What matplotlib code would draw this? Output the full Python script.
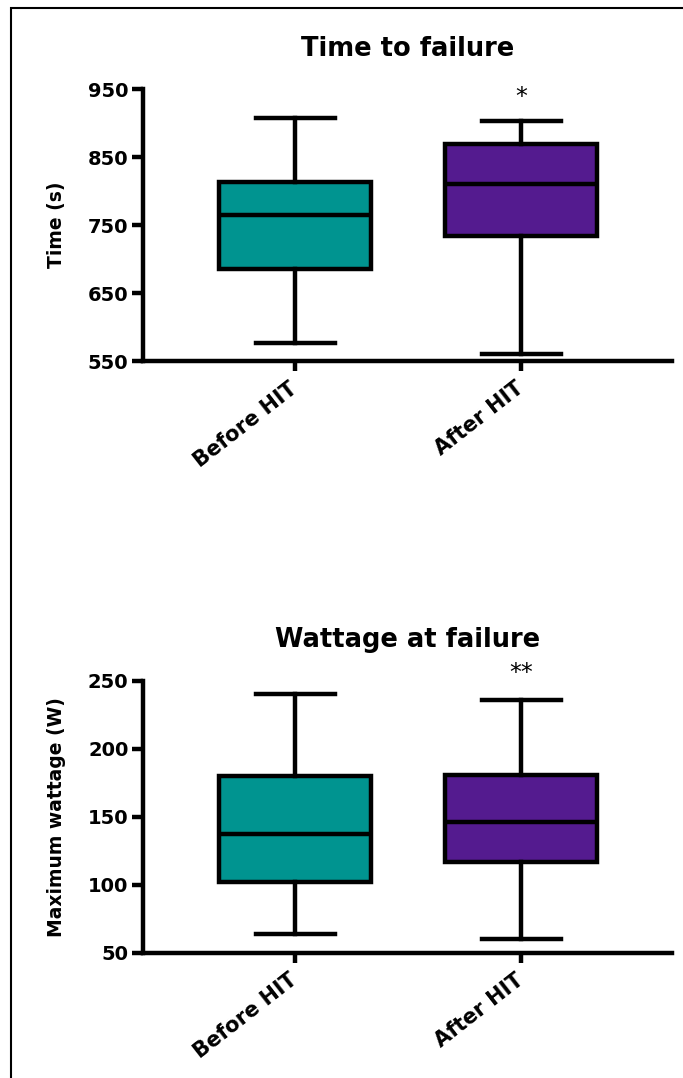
import matplotlib.pyplot as plt
from matplotlib.patches import Rectangle

# group names and colours
groups = ["Before HIT", "After HIT"]
box_colors = ["#009490", "#541B8F"]

# time to failure (s): whisker low, Q1, median, Q3, whisker high
time_low = [577, 560]
time_q1 = [685, 734]
time_med = [765, 811]
time_q3 = [814, 869]
time_high = [908, 903]

# maximum wattage (W)
watt_low = [64, 60]
watt_q1 = [102, 117]
watt_med = [137, 146]
watt_q3 = [180, 181]
watt_high = [240, 236]

time_ticks = [550, 650, 750, 850, 950]
watt_ticks = [50, 100, 150, 200, 250]

# significance marks on the After HIT group
time_sig = ("*", 1, 938)
watt_sig = ("**", 1, 256)

plt.rcParams['font.family'] = ['DejaVu Sans']

LW = 3.2


def make_stats(lo, q1, med, q3, hi):
    stats = []
    for i in range(len(lo)):
        stats.append({'whislo': lo[i], 'q1': q1[i], 'med': med[i],
                      'q3': q3[i], 'whishi': hi[i], 'fliers': []})
    return stats


def draw_panel(ax, stats, ticks, title, ylabel, sig):
    bp = ax.bxp(stats, positions=[0, 1], widths=0.67, capwidths=0.35,
                patch_artist=True, showfliers=False,
                boxprops=dict(linewidth=LW, edgecolor='black'),
                medianprops=dict(linewidth=LW, color='black'),
                whiskerprops=dict(linewidth=LW, color='black'),
                capprops=dict(linewidth=LW, color='black'))
    for patch, c in zip(bp['boxes'], box_colors):
        patch.set_facecolor(c)

    ax.set_xlim(-0.673, 1.668)
    ax.set_ylim(ticks[0], ticks[-1])
    ax.set_yticks(ticks)
    ax.set_yticklabels([str(t) for t in ticks], fontsize=14, fontweight='bold')
    ax.set_xticks([0, 1])
    ax.set_xticklabels(groups, fontsize=15, fontweight='bold',
                       rotation=38, ha='right', va='center', rotation_mode='anchor')

    for side in ['top', 'right']:
        ax.spines[side].set_visible(False)
    for side in ['left', 'bottom']:
        ax.spines[side].set_linewidth(LW)
    ax.tick_params(axis='y', length=8, width=LW, pad=2.5)
    ax.tick_params(axis='x', length=7, width=LW, pad=11)

    ax.set_title(title, fontsize=18.5, fontweight='bold', pad=24)
    ax.set_ylabel(ylabel, fontsize=13.5, fontweight='bold')
    ax.yaxis.set_label_coords(-0.145, 0.5)

    mark, xpos, ypos = sig
    ax.text(xpos, ypos, mark, ha='center', va='center', fontsize=17,
            clip_on=False)


fig = plt.figure(figsize=(6.83, 10.78), dpi=100)

ax1 = fig.add_axes([0.2094, 0.6651, 0.7745, 0.2523])
ax2 = fig.add_axes([0.2094, 0.1162, 0.7745, 0.2523])

draw_panel(ax1, make_stats(time_low, time_q1, time_med, time_q3, time_high),
           time_ticks, "Time to failure", "Time (s)", time_sig)
draw_panel(ax2, make_stats(watt_low, watt_q1, watt_med, watt_q3, watt_high),
           watt_ticks, "Wattage at failure", "Maximum wattage (W)", watt_sig)

# outer frame, runs off the right and bottom edges
frame = Rectangle((11 / 683, -0.1), 1.2, 1.1 - 8 / 1078,
                  transform=fig.transFigure, fill=False,
                  edgecolor='black', linewidth=1.5)
fig.patches.append(frame)

fig.savefig('out.png', dpi=100)
